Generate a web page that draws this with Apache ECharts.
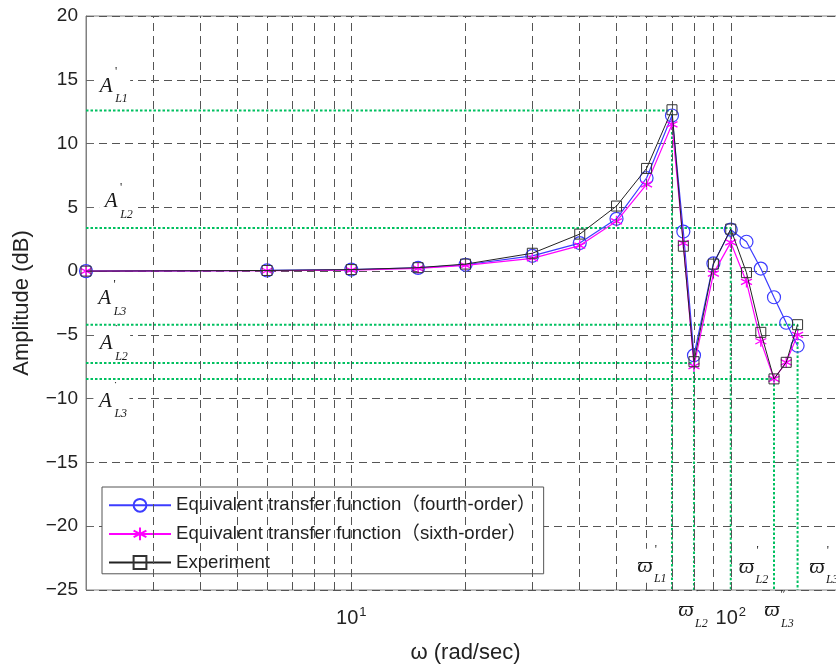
<!DOCTYPE html>
<html><head><meta charset="utf-8">
<script src="https://cdn.jsdelivr.net/npm/echarts@6/dist/echarts.min.js"></script>
<style>html,body{margin:0;padding:0;background:#fff}#c{width:836px;height:666px}</style>
</head><body><div id="c"></div>
<script>
// ---- data ----
const omega = [2, 6, 10, 15, 20, 30, 40, 50, 60, 70, 75, 80, 90, 100, 110, 120, 130, 140, 150];
const fourthOrder = [0, 0.05, 0.12, 0.25, 0.5, 1.2, 2.2, 4.1, 7.3, 12.2, 3.1, -6.6, 0.6, 3.25, 2.3, 0.2, -2.05, -4.05, -5.85];
const sixthOrder  = [0, 0.03, 0.08, 0.22, 0.45, 1.0, 2.0, 3.9, 6.8, 11.5, 2.2, -7.45, -0.2, 2.25, -0.85, -5.5, -8.45, -7.15, -5.0];
const experiment  = [0, 0.05, 0.12, 0.27, 0.55, 1.4, 2.9, 5.1, 8.05, 12.65, 1.95, -7.1, 0.55, 3.3, -0.12, -4.8, -8.45, -7.15, -4.2];
const seriesNames = ['Equivalent transfer function（fourth-order）', 'Equivalent transfer function（sixth-order）', 'Experiment'];
// characteristic points (green dotted guides)
const refOmega = [70, 100, 150, 80, 130];
const refAmp = [12.6, 3.38, -4.2, -7.2, -8.45];
// dashed grid positions on the log axis
const xGridValues = [3, 4, 5, 6, 7, 8, 9, 10, 20, 30, 40, 50, 60, 70, 80, 90, 100];
const yMin = -25, yMax = 20, yStep = 5;
const xMin = 2, xMax = 200;
// annotation symbols: [main glyph, superscript mark, subscript, omega, amplitude]
const ampLabels = [
  ['A', "'", 'L1', 2.26, 14.5],
  ['A', "'", 'L2', 2.33, 5.46],
  ['A', "'", 'L3', 2.24, -2.18],
  ['A', '˙', 'L2', 2.26, -5.7],
  ['A', '˙', 'L3', 2.25, -10.2]
];
const freqLabels = [
  ['ϖ', "'", 'L1', 59.4, -23.1],
  ['ϖ', '˙', 'L2', 76.2, -26.6],
  ['ϖ', "'", 'L2', 110, -23.2],
  ['ϖ', '″', 'L3', 128.4, -26.6],
  ['ϖ', "'", 'L3', 168.7, -23.2]
];

const SANS = 'Arial, "Liberation Sans", "Noto Sans CJK SC", sans-serif';
const SERIF = '"Liberation Serif", "DejaVu Serif", serif';
const BLUE = '#3c3cff', MAG = '#ff00ff', BLK = '#222222', GREEN = '#00c060', GRID = '#555555';
const asterisk = 'path://M5 0L5 10M0.67 2.5L9.33 7.5M0.67 7.5L9.33 2.5';

const pairs = vals => omega.map((w, i) => [w, vals[i]]);

const refSeries = refOmega.map((w, k) => ({
  type: 'line', silent: true, symbol: 'none', z: 2,
  data: [[xMin, refAmp[k]], [w, refAmp[k]], [w, yMin]],
  lineStyle: { color: GREEN, width: 2, type: [2.5, 2] }
}));

const option = {
  animation: false,
  backgroundColor: '#fff',
  grid: { left: 86, top: 16, width: 759, height: 574, containLabel: false, outerBoundsMode: 'none',
          show: true, borderColor: '#808080', borderWidth: 1, backgroundColor: 'transparent' },
  legend: {
    data: seriesNames, orient: 'vertical', left: 102, top: 487,
    itemWidth: 62, itemHeight: 16, itemGap: 10,
    padding: [9, 8, 2, 6],
    backgroundColor: '#fff', borderColor: '#555', borderWidth: 1,
    textStyle: { fontSize: 18.6, lineHeight: 16, fontFamily: SANS, color: '#222' }
  },
  xAxis: {
    type: 'log', logBase: 10, min: xMin, max: xMax,
    axisLine: { show: false }, axisTick: { show: false }, splitLine: { show: false },
    axisLabel: {
      margin: 16,
      formatter: v => {
        const l = Math.log10(v), r = Math.round(l);
        return (Math.abs(l - r) < 1e-6 && r >= 1) ? '{b|10}{s|' + r + '}' : '';
      },
      rich: {
        b: { fontSize: 20, fontFamily: SANS, color: '#222' },
        s: { fontSize: 13, fontFamily: SANS, color: '#222', padding: [0, 0, 12, 1] }
      }
    },
    name: 'ω (rad/sec)', nameLocation: 'middle', nameGap: 52,
    nameTextStyle: { fontSize: 22, fontFamily: SANS, color: '#222' }
  },
  yAxis: {
    type: 'value', min: yMin, max: yMax, interval: yStep,
    axisLine: { show: true, lineStyle: { color: '#808080' } },
    axisTick: { show: true, inside: true, length: 8, lineStyle: { color: '#666' } },
    splitLine: { show: true, lineStyle: { color: GRID, type: [8, 5], width: 1 } },
    axisLabel: { fontSize: 19, fontFamily: SANS, color: '#222', margin: 8,
      formatter: v => v < 0 ? '−' + (-v) : String(v) },
    name: 'Amplitude (dB)', nameLocation: 'middle', nameGap: 53,
    nameTextStyle: { fontSize: 22, fontFamily: SANS, color: '#222' }
  },
  series: [
    {
      type: 'line', name: '_grid', silent: true, data: [], z: 1,
      markLine: {
        silent: true, symbol: 'none', label: { show: false }, animation: false,
        lineStyle: { color: GRID, type: [8, 5], width: 1 },
        data: xGridValues.map(v => ({ xAxis: v }))
      }
    },
    ...refSeries,
    {
      name: seriesNames[0], type: 'line', data: pairs(fourthOrder), z: 3,
      symbol: 'circle', symbolSize: 13,
      itemStyle: { color: 'rgba(0,0,0,0)', borderColor: BLUE, borderWidth: 1.2 },
      lineStyle: { color: BLUE, width: 1.2 }
    },
    {
      name: seriesNames[1], type: 'line', data: pairs(sixthOrder), z: 4,
      symbol: asterisk, symbolSize: 11,
      itemStyle: { color: 'rgba(0,0,0,0)', borderColor: MAG, borderWidth: 1.3 },
      lineStyle: { color: MAG, width: 1.2 }
    },
    {
      name: seriesNames[2], type: 'line', data: pairs(experiment), z: 5,
      symbol: 'rect', symbolSize: 10,
      itemStyle: { color: 'rgba(0,0,0,0)', borderColor: '#333', borderWidth: 1 },
      lineStyle: { color: BLK, width: 1 }
    }
  ]
};

const chart = echarts.init(document.getElementById('c'), null, { renderer: 'canvas' });
chart.setOption(option);

function makeSymbol(lbl, isFreq) {
  const p = chart.convertToPixel({ gridIndex: 0 }, [lbl[3], lbl[4]]);
  const mainFont = isFreq ? 'italic 22px ' + SERIF : 'italic 21px ' + SERIF;
  const supOff = isFreq ? [11, -16] : [10, -14];
  const subOff = isFreq ? [9, 13] : [9, 13];
  return {
    type: 'group', x: p[0], y: p[1], z: 100,
    children: [
      { type: 'rect', shape: { x: -12, y: -17, width: 36, height: 34 }, style: { fill: '#fff' }, z: 100 },
      { type: 'text', x: 0, y: 0, z: 101, style: { text: lbl[0], font: mainFont, fill: '#1a1a1a', align: 'center', verticalAlign: 'middle' } },
      { type: 'text', x: supOff[0], y: supOff[1], z: 101, style: { text: lbl[1], font: '12px ' + SERIF, fill: '#1a1a1a', align: 'center', verticalAlign: 'middle' } },
      { type: 'text', x: subOff[0], y: subOff[1], z: 101, style: { text: lbl[2], font: 'italic 12px ' + SERIF, fill: '#1a1a1a', align: 'left', verticalAlign: 'middle' } }
    ]
  };
}
chart.setOption({
  graphic: [
    ...ampLabels.map(l => makeSymbol(l, false)),
    ...freqLabels.map(l => makeSymbol(l, true))
  ]
});
</script></body></html>
